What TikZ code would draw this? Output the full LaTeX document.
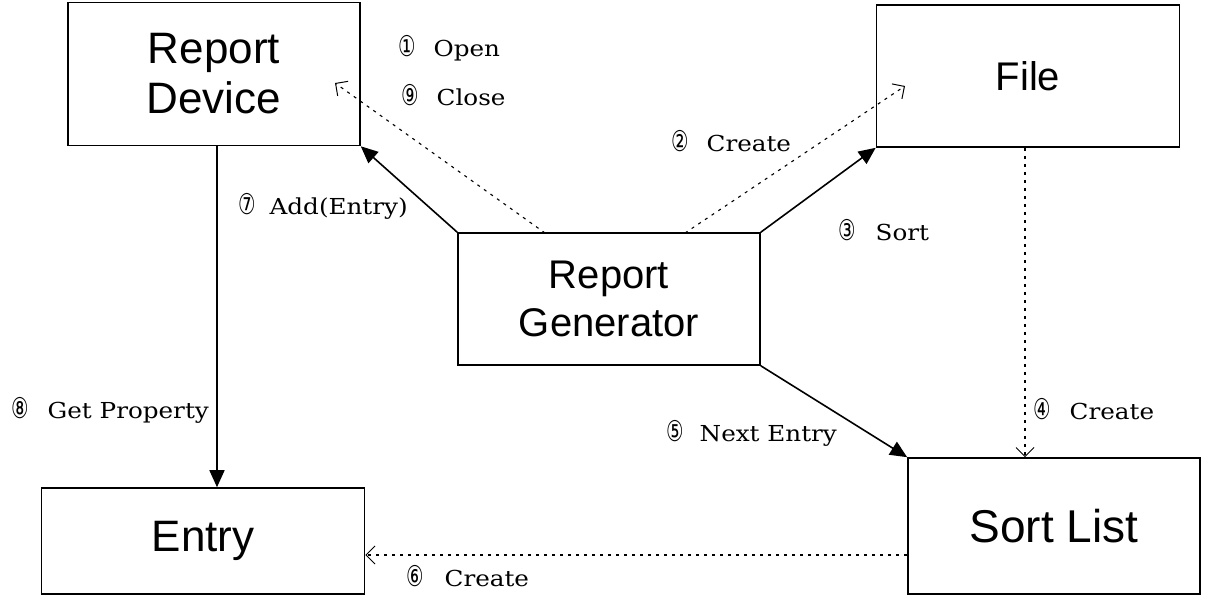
\documentclass[tikz,border=0pt]{standalone}
\usepackage{fontspec}
\setmainfont{DejaVu Serif}
\newfontfamily\boxfont{Liberation Sans}
\newfontfamily\symfont{DejaVu Sans}
\usetikzlibrary{arrows.meta}
\newcommand{\cnum}[1]{\scalebox{0.75}[1.1]{\symfont\fontsize{26}{26}\selectfont #1}}
\newcommand{\ltxt}[1]{\scalebox{1.12}[1]{#1}}
\begin{document}
\begin{tikzpicture}[x=1pt,y=-1pt,
  box/.style={draw,line width=1.6pt,inner sep=0pt,align=center,font=\boxfont\fontsize{40}{48}\selectfont},
  call/.style={line width=1.6pt,-{Triangle[length=17pt,width=15pt]}},
  dep/.style={line width=1.1pt,dash pattern=on 3pt off 5pt,-{Straight Barb[length=9pt,width=18pt,line width=1pt]}},
  lab/.style={anchor=west,inner sep=0pt,font=\fontsize{22}{24}\selectfont}]
\useasboundingbox (0,0) rectangle (1209,594);
\node[box,minimum width=292pt,minimum height=143pt,font=\boxfont\fontsize{44}{50}\selectfont] (rd) at (214,74) {Report\\Device};
\node[box,minimum width=303pt,minimum height=142pt] (file) at (1028,76) {File};
\node[box,minimum width=302pt,minimum height=132pt] (rg) at (609,299) {Report\\Generator};
\node[box,minimum width=323pt,minimum height=106pt,font=\boxfont\fontsize{44}{50}\selectfont] (entry) at (203,541) {Entry};
\node[box,minimum width=292pt,minimum height=136pt,font=\boxfont\fontsize{46}{50}\selectfont] (sl) at (1054,526) {Sort List};
% solid calls
\draw[call] (rd.south -| 217,0) -- (entry.north -| 217,0);
\draw[call] (rg.north west) -- (rd.south east);
\draw[call] (rg.north east) -- (file.south west);
\draw[call] (rg.south east) -- (sl.north west);
% dotted dependencies
\coordinate (rdd) at (335,83);
\coordinate (fd) at (905,86);
\coordinate (a1) at (545,233);
\coordinate (a2) at (685,233);
\draw[dep] (a1) -- (rdd);
\draw[dep] (a2) -- (fd);
\draw[dep] (file.south -| 1025,0) -- (sl.north -| 1025,0);
\draw[dep] (sl.west |- 0,555) -- (entry.east |- 0,555);
% labels
\node[lab] (l1) at (398,48) {\cnum{①}\hspace{18pt}\ltxt{Open}};
\node[lab] (l9) at (401,95) {\cnum{⑨}\hspace{18pt}\ltxt{Close}};
\node[lab] (l2) at (671,141) {\cnum{②}\hspace{18pt}\ltxt{Create}};
\node[lab] (l7) at (238,206) {\cnum{⑦}\hspace{14pt}\ltxt{Add(Entry)}};
\node[lab] (l3) at (838,230) {\cnum{③}\hspace{20pt}\ltxt{Sort}};
\node[lab] (l8) at (11,410) {\cnum{⑧}\hspace{19pt}\ltxt{Get Property}};
\node[lab] (l5) at (666,433) {\cnum{⑤}\hspace{16pt}\ltxt{Next Entry}};
\node[lab] (l4) at (1033,409) {\cnum{④}\hspace{19pt}\ltxt{Create}};
\node[lab] (l6) at (406,576) {\cnum{⑥}\hspace{21pt}\ltxt{Create}};
\end{tikzpicture}
\end{document}
